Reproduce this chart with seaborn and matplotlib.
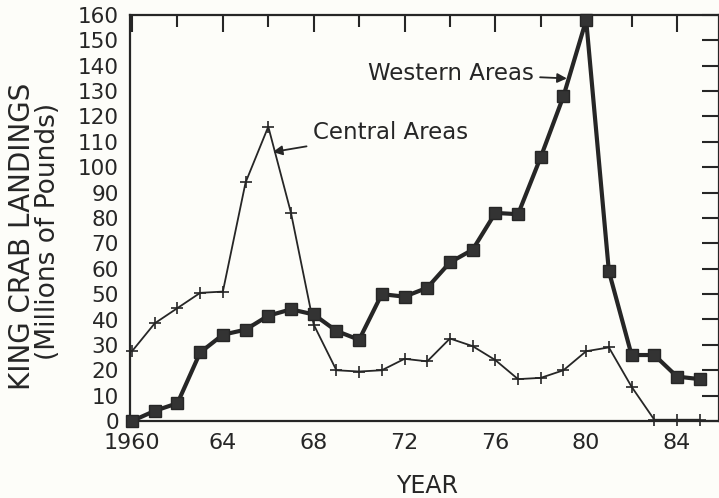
import numpy as np
import pandas as pd
import matplotlib
matplotlib.use("Agg")
import matplotlib.pyplot as plt
from matplotlib.ticker import FixedLocator
import seaborn as sns

years = list(range(1960, 1986))
western = [0, 4, 7, 27, 34, 36, 41.5, 44, 42, 35.5, 32, 50, 49, 52.5, 62.5, 67.5,
           82, 81.5, 104, 128, 158, 59, 26, 26, 17.5, 16.5]
central = [27.5, 38.5, 44.5, 50.5, 51, 94, 116, 82, 38, 20, 19.5, 20, 24.5, 23.5,
           32.5, 29.5, 24, 16.5, 17, 20, 27.5, 29, 13.5, 0.5, 0.5, 0.5]
x_major = [1960, 1964, 1968, 1972, 1976, 1980, 1984]
x_labels = ["1960", "64", "68", "72", "76", "80", "84"]
x_minor = [1962, 1966, 1970, 1974, 1978, 1982]
y_ticks = list(range(0, 161, 10))

df = pd.DataFrame({"year": years, "Western Areas": western, "Central Areas": central})

sns.set_theme(style="white")
plt.rcParams["font.family"] = ["DejaVu Sans"]
INK = "#262626"
BG = "#fdfdf9"

fig = plt.figure(figsize=(7.19, 4.98), dpi=100, facecolor=BG)
ax = fig.add_axes([130 / 719, 1 - 421 / 498, 589 / 719, (421 - 15) / 498])
ax.set_facecolor(BG)

sns.lineplot(data=df, x="year", y="Central Areas", ax=ax, color=INK, lw=1.3,
             marker="+", markersize=8, markeredgewidth=1.2, markeredgecolor=INK,
             clip_on=False, zorder=3)
sns.lineplot(data=df, x="year", y="Western Areas", ax=ax, color=INK, lw=3.0,
             marker="s", markersize=8, markeredgecolor=INK, markerfacecolor="#333333",
             markeredgewidth=1.0, clip_on=False, zorder=4)

ax.set_xlim(1959.91, 1985.85)
ax.set_ylim(0, 160)

ax.xaxis.set_major_locator(FixedLocator(x_major))
ax.xaxis.set_minor_locator(FixedLocator(x_minor))
ax.set_xticklabels(x_labels)
ax.set_yticks(y_ticks)
ax.set_yticklabels([str(v) for v in y_ticks])

ax.tick_params(axis="both", which="major", direction="in", length=12, width=1.5,
               color=INK, labelcolor=INK, labelsize=16, top=True, right=True)
ax.tick_params(axis="both", which="minor", direction="in", length=8.5, width=1.5,
               color=INK, top=True, right=True)
ax.tick_params(axis="x", which="major", pad=8.5)
ax.tick_params(axis="y", which="major", pad=8, length=12, labelsize=15.5)

for s in ax.spines.values():
    s.set_color(INK)
    s.set_linewidth(1.6)
    s.set_visible(True)

ax.set_xlabel("")
ax.set_ylabel("")

fig.text(427 / 719, 1 - 486 / 498, "YEAR", ha="center", va="center",
         fontsize=17, color=INK)
fig.text(22 / 719, 1 - 236 / 498, "KING CRAB LANDINGS", rotation=90,
         ha="center", va="center", fontsize=20, color=INK)
fig.text(48 / 719, 1 - 231 / 498, "(Millions of Pounds)", rotation=90,
         ha="center", va="center", fontsize=19, color=INK)

ax.annotate("Central Areas", xy=(1966.2, 106), xytext=(1967.95, 113.8),
            ha="left", va="center", fontsize=16.5, color=INK,
            arrowprops=dict(arrowstyle="-|>", color=INK, lw=1.3,
                            mutation_scale=14, shrinkA=2, shrinkB=0))
ax.annotate("Western Areas", xy=(1979.15, 135), xytext=(1970.4, 137),
            ha="left", va="center", fontsize=16.5, color=INK,
            arrowprops=dict(arrowstyle="-|>", color=INK, lw=1.3,
                            mutation_scale=14, shrinkA=2, shrinkB=0))

fig.savefig("out.png", dpi=100, facecolor=BG)
